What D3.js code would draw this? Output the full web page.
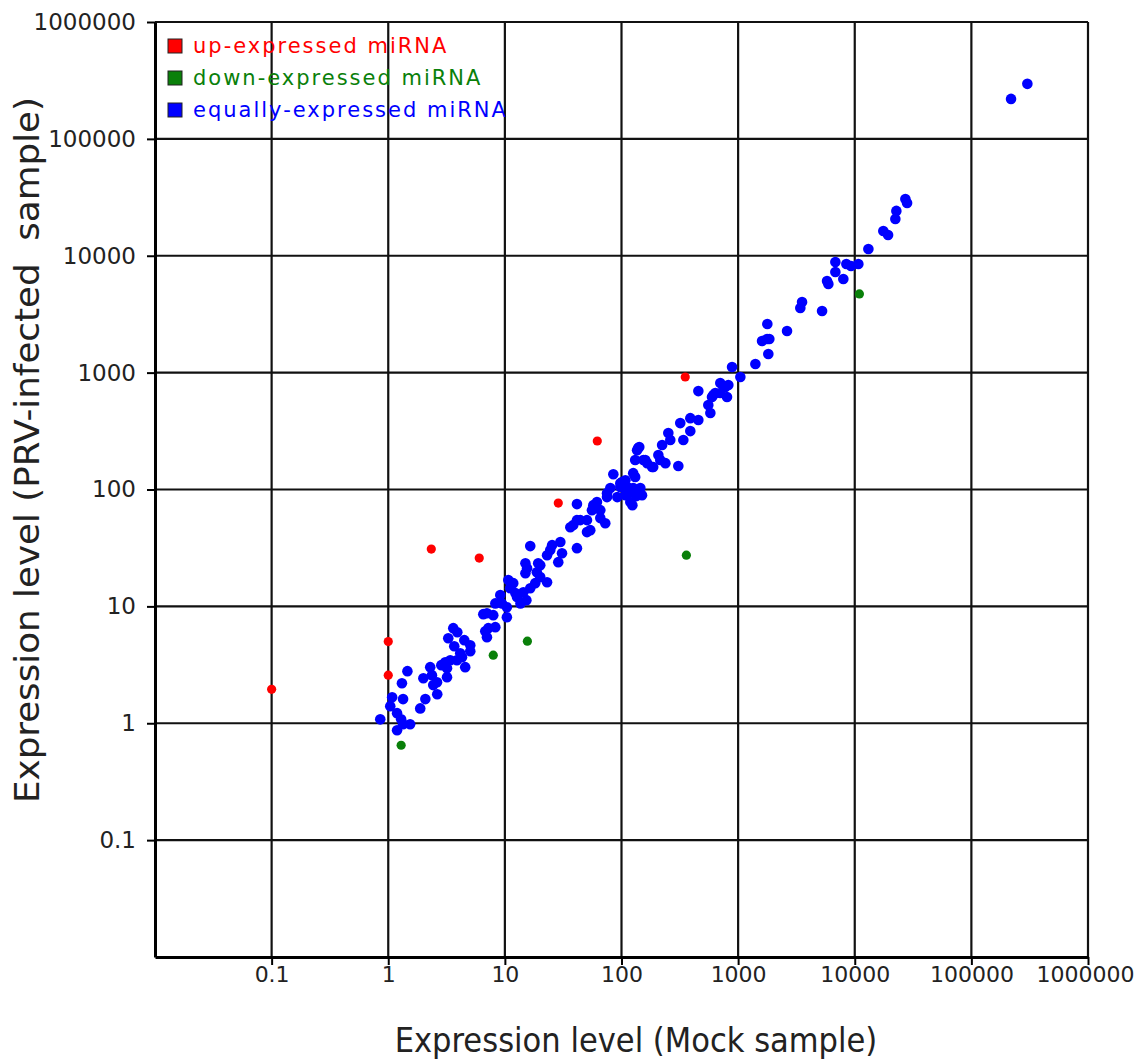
<!DOCTYPE html>
<html>
<head>
<meta charset="utf-8">
<script src="https://cdn.jsdelivr.net/npm/d3@7"></script>
<style>
body { margin: 0; background: #fff; }
text { font-family: "DejaVu Sans", sans-serif; }
</style>
</head>
<body>
<svg width="1136" height="1062"></svg>
<script>
// values (Mock, PRV-infected)
var upX = [0.1, 1, 1, 2.34, 6.03, 28.7, 62, 352];
var upY = [1.95, 5.0, 2.58, 30.9, 25.9, 76.5, 260, 917];

var downX = [1.29, 7.95, 15.6, 360, 10960];
var downY = [0.648, 3.82, 5.04, 27.4, 4710];

var equalX = [0.854, 1.08, 1.04, 1.19, 1.29, 1.19, 1.34, 1.54, 1.31, 1.34, 1.46, 1.88, 2.08, 2.00, 2.29, 2.37,
  2.43, 2.62, 2.63, 3.19, 3.08, 3.40, 3.27, 3.61, 3.91, 3.68, 4.14, 4.49, 5.05, 4.57, 3.88, 4.29, 3.19,
  6.53, 7.02, 6.79, 7.02, 8.28, 8.28, 9.13, 10.4, 10.7, 11.8, 12.3, 10.4, 7.95, 9.44, 11.1, 12.7, 13.6,
  14.4, 16.5, 18.2, 15.0, 15.5, 15.0, 18.8, 20.1, 23.0, 19.3, 16.5, 23.0, 24.5, 25.4, 29.9, 30.9, 28.7,
  41.5, 36.4, 38.6, 41.5, 50.6, 50.6, 54.0, 55.8, 41.5, 57.3, 61.6, 65.8, 72.6, 75.1, 85.1, 97.7, 108,
  119, 131, 136, 75.1, 101, 126, 145, 150, 131, 142, 154, 166, 183, 207, 215, 238, 307, 223, 252, 262,
  339, 319, 389, 389, 456, 456, 555, 578, 597, 637, 703, 777, 803, 824, 887, 1045, 1406, 1815, 1603,
  1770, 1852, 1780, 2626, 3414, 3533, 5245, 5785, 5940, 6820, 6820, 7980, 8470, 9295, 10740, 13090,
  17580, 19310, 22290, 22740, 27170, 28100, 218800, 302000, 108, 114, 126, 160, 187, 139, 97.7, 65.8,
  44.3, 7.21, 5.05, 2.85, 15.3, 20.1, 703, 613, 80.2, 92.0, 112, 134, 124];
var equalY = [1.08, 1.67, 1.40, 1.22, 1.08, 0.871, 0.98, 0.98, 2.20, 1.61, 2.79, 1.34, 1.61, 2.43, 3.02, 2.58,
  2.12, 2.24, 1.77, 2.48, 3.33, 3.46, 5.34, 6.51, 6.01, 4.56, 3.97, 5.14, 4.13, 3.02, 3.46, 3.67, 2.96,
  8.58, 8.74, 6.13, 5.45, 6.64, 10.6, 12.5, 8.08, 16.8, 15.8, 13.0, 9.84, 8.41, 10.6, 14.3, 12.0, 10.6,
  13.2, 14.3, 15.8, 19.2, 21.2, 23.4, 19.6, 17.8, 16.1, 23.4, 32.8, 27.4, 30.3, 33.4, 35.5, 28.5, 23.9,
  31.5, 47.6, 49.6, 54.7, 54.7, 43.2, 44.9, 66.6, 75.0, 73.5, 78.0, 56.9, 51.5, 86.1, 135, 105, 89.5,
  78.0, 179, 217, 93.1, 116, 103, 103, 89.5, 128, 231, 179, 168, 156, 197, 179, 168, 159, 240, 304, 265,
  265, 370, 316, 408, 393, 695, 528, 451, 618, 669, 815, 753, 618, 783, 1117, 917, 1185, 1443, 1866,
  1940, 1940, 2608, 2270, 3573, 4020, 3367, 6085, 5738, 8850, 7265, 6325, 8510, 8180, 8510, 11430,
  16300, 15070, 20650, 24200, 30630, 28310, 219900, 295800, 120, 93.1, 138, 179, 156, 226, 113, 66.6,
  54.7, 6.51, 4.65, 3.14, 11.3, 22.5, 669, 643, 103, 86.1, 105, 87.8, 73.5];

var tickValues = [0.1, 1, 10, 100, 1000, 10000, 100000, 1000000];
var tickLabels = ["0.1", "1", "10", "100", "1000", "10000", "100000", "1000000"];

var legendNames = ["up-expressed miRNA", "down-expressed miRNA", "equally-expressed miRNA"];
var legendColors = ["#ff0000", "#0a800a", "#0000ff"];

var svg = d3.select("svg");
var plotLeft = 155, plotRight = 1088, plotTop = 22, plotBottom = 957;

var xScale = d3.scaleLog().domain([0.01, 1000000]).range([plotLeft, plotRight]);
var yScale = d3.scaleLog().domain([0.01, 1000000]).range([plotBottom, plotTop]);

// grid
var grid = svg.append("g");
grid.selectAll(".vgrid")
  .data(tickValues)
  .enter()
  .append("line")
  .attr("x1", function (d) { return xScale(d); })
  .attr("x2", function (d) { return xScale(d); })
  .attr("y1", plotTop)
  .attr("y2", plotBottom)
  .attr("stroke", "#111")
  .attr("stroke-width", 2.2);
grid.selectAll(".hgrid")
  .data(tickValues)
  .enter()
  .append("line")
  .attr("x1", plotLeft)
  .attr("x2", plotRight)
  .attr("y1", function (d) { return yScale(d); })
  .attr("y2", function (d) { return yScale(d); })
  .attr("stroke", "#111")
  .attr("stroke-width", 2.2);

// axes
var xAxis = svg.append("g")
  .attr("transform", "translate(0," + plotBottom + ")")
  .call(d3.axisBottom(xScale)
    .tickValues(tickValues)
    .tickFormat(function (d, i) { return tickLabels[i]; })
    .tickSize(8)
    .tickSizeOuter(0));

var yAxis = svg.append("g")
  .attr("transform", "translate(" + plotLeft + ",0)")
  .call(d3.axisLeft(yScale)
    .tickValues(tickValues)
    .tickFormat(function (d, i) { return tickLabels[i]; })
    .tickSize(8)
    .tickSizeOuter(0));

[xAxis, yAxis].forEach(function (a) {
  a.select(".domain").attr("stroke", "#000").attr("stroke-width", 3);
  a.selectAll(".tick line").attr("stroke", "#000").attr("stroke-width", 2);
  a.selectAll(".tick text")
    .attr("fill", "#222")
    .style("font-family", "'DejaVu Sans', sans-serif");
});
xAxis.selectAll(".tick text").style("font-size", "22px").attr("y", 8).attr("dy", "0.75em");
xAxis.selectAll(".tick:last-of-type text").attr("text-anchor", "end").attr("x", 46);
yAxis.selectAll(".tick text").style("font-size", "23px").attr("x", -19);

// points
function draw(xs, ys, color, r) {
  svg.append("g")
    .selectAll("circle")
    .data(d3.zip(xs, ys))
    .enter()
    .append("circle")
    .attr("cx", function (d) { return xScale(d[0]); })
    .attr("cy", function (d) { return yScale(d[1]); })
    .attr("r", r)
    .attr("fill", color);
}
draw(equalX, equalY, legendColors[2], 5.3);
draw(upX, upY, legendColors[0], 4.6);
draw(downX, downY, legendColors[1], 4.6);

// legend
var legend = svg.append("g").attr("transform", "translate(168,39)");
legend.selectAll("rect")
  .data(legendNames)
  .enter()
  .append("rect")
  .attr("x", 0)
  .attr("y", function (d, i) { return i * 32; })
  .attr("width", 14)
  .attr("height", 14)
  .attr("fill", function (d, i) { return legendColors[i]; })
  .attr("stroke", "#222")
  .attr("stroke-width", 1);
legend.selectAll("text")
  .data(legendNames)
  .enter()
  .append("text")
  .attr("x", 25)
  .attr("y", function (d, i) { return i * 32 + 14; })
  .attr("fill", function (d, i) { return legendColors[i]; })
  .style("font-size", "21px")
  .style("letter-spacing", "2px")
  .text(function (d) { return d; });

// axis titles
svg.append("text")
  .attr("x", 636)
  .attr("y", 1052)
  .attr("text-anchor", "middle")
  .style("font-family", "'DejaVu Sans Condensed', sans-serif")
  .style("font-size", "34px")
  .attr("fill", "#222")
  .text("Expression level (Mock sample)");

svg.append("text")
  .attr("transform", "translate(39,450) rotate(-90)")
  .attr("text-anchor", "middle")
  .attr("textLength", 706)
  .attr("lengthAdjust", "spacingAndGlyphs")
  .style("font-family", "'DejaVu Sans Condensed', sans-serif")
  .style("font-size", "33px")
  .style("white-space", "pre")
  .attr("fill", "#222")
  .text("Expression level (PRV-infected  sample)");
</script>
</body>
</html>
